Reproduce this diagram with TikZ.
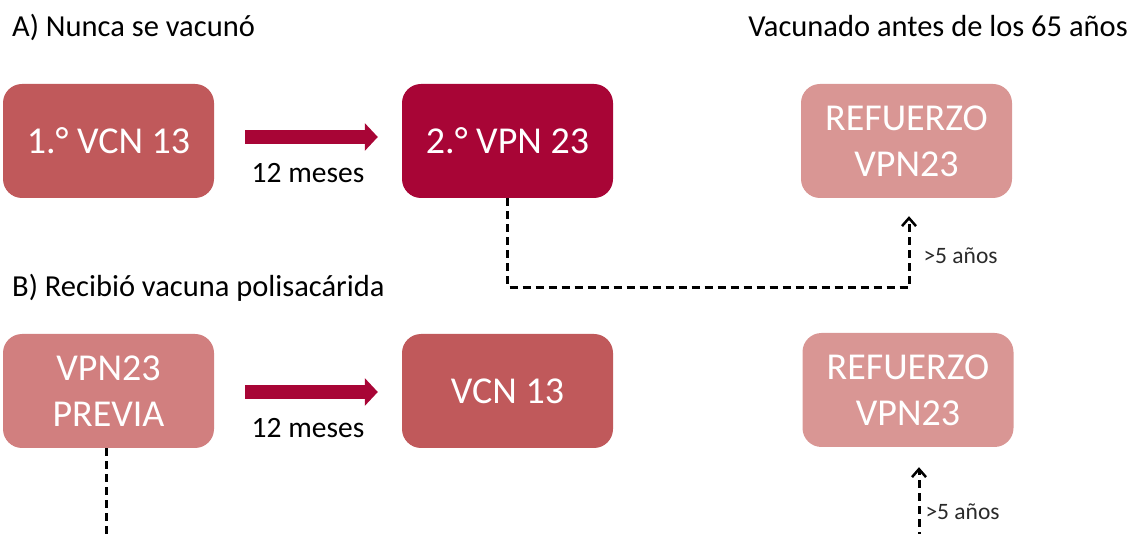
\documentclass[tikz,border=0pt]{standalone}
\usepackage{fontspec}
\setmainfont{Carlito}
\usetikzlibrary{arrows.meta,calc}
\definecolor{boxA}{HTML}{C0595B}
\definecolor{boxB}{HTML}{A80536}
\definecolor{boxR}{HTML}{D99694}
\definecolor{boxP}{HTML}{D17F7F}
\definecolor{smallgrey}{HTML}{2A2A2A}
\tikzset{
  vbox/.style={rounded corners=19pt, minimum width=211pt, minimum height=114pt,
    inner sep=0pt, text=white, align=center,
    font=\fontsize{38}{46}\selectfont},
  bigarrow/.style={draw=boxB, line width=14pt,
    -{Triangle[width=27pt,length=13pt]}},
  dashconn/.style={draw=black, line width=3pt, dash pattern=on 8pt off 5pt},
  label/.style={font=\fontsize{29.5}{34}\selectfont, text=black},
  small/.style={font=\fontsize{23.5}{28}\selectfont, text=smallgrey},
  title/.style={font=\fontsize{30.5}{36}\selectfont, text=black, inner sep=0pt},
}
\begin{document}
\begin{tikzpicture}[x=1pt,y=-1pt]
\useasboundingbox (0,0) rectangle (1136,534);
% titles
\node[title, anchor=base west] (tA) at (12,37) {A) Nunca se vacunó};
\node[title, anchor=base east] (tR) at (1128,37) {Vacunado antes de los 65 años};
\node[title, anchor=base west] (tB) at (12,297) {B) Recibió vacuna polisacárida};
% boxes
\node[vbox, fill=boxA] (a1) at (108.5,141) {1.° VCN 13};
\node[vbox, fill=boxB] (a2) at (507.5,141) {2.° VPN 23};
\node[vbox, fill=boxR] (r1) at (906.5,141) {REFUERZO\\VPN23};
\node[vbox, fill=boxP] (b1) at (108.5,391) {VPN23\\PREVIA};
\node[vbox, fill=boxA] (b2) at (507.5,391) {VCN 13};
\node[vbox, fill=boxR] (r2) at (908,390) {REFUERZO\\VPN23};
% thick arrows
\draw[bigarrow, shorten <=31pt, shorten >=24pt]
  ($(a1.east)+(0,-4)$) -- ($(a2.west)+(0,-4)$)
  node[label, midway, anchor=base, yshift=-46pt] (l1) {12 meses};
\draw[bigarrow, shorten <=31pt, shorten >=24pt]
  ($(b1.east)+(0,1)$) -- ($(b2.west)+(0,1)$)
  node[label, midway, anchor=base, yshift=-46pt] (l2) {12 meses};
% dashed connectors
\draw[dashconn, -{Straight Barb[length=8pt,width=14pt,line width=2.5pt]}, shorten >=18pt]
  (a2.south) -- ++(0,89) -| ($(r1.south)+(2.5,0)$);
\node[small, anchor=west] (s1) at (920,256) {>5 años};
\coordinate (bb1) at (106,540);
\draw[dashconn] (b1.south -| bb1) -- (bb1);
\coordinate (bb2) at (919,540);
\draw[dashconn, -{Straight Barb[length=8pt,width=14pt,line width=2.5pt]}, shorten >=20pt]
  (bb2) -- (bb2 |- r2.south);
\node[small, anchor=west] (s2) at (922,512) {>5 años};
\end{tikzpicture}
\end{document}
